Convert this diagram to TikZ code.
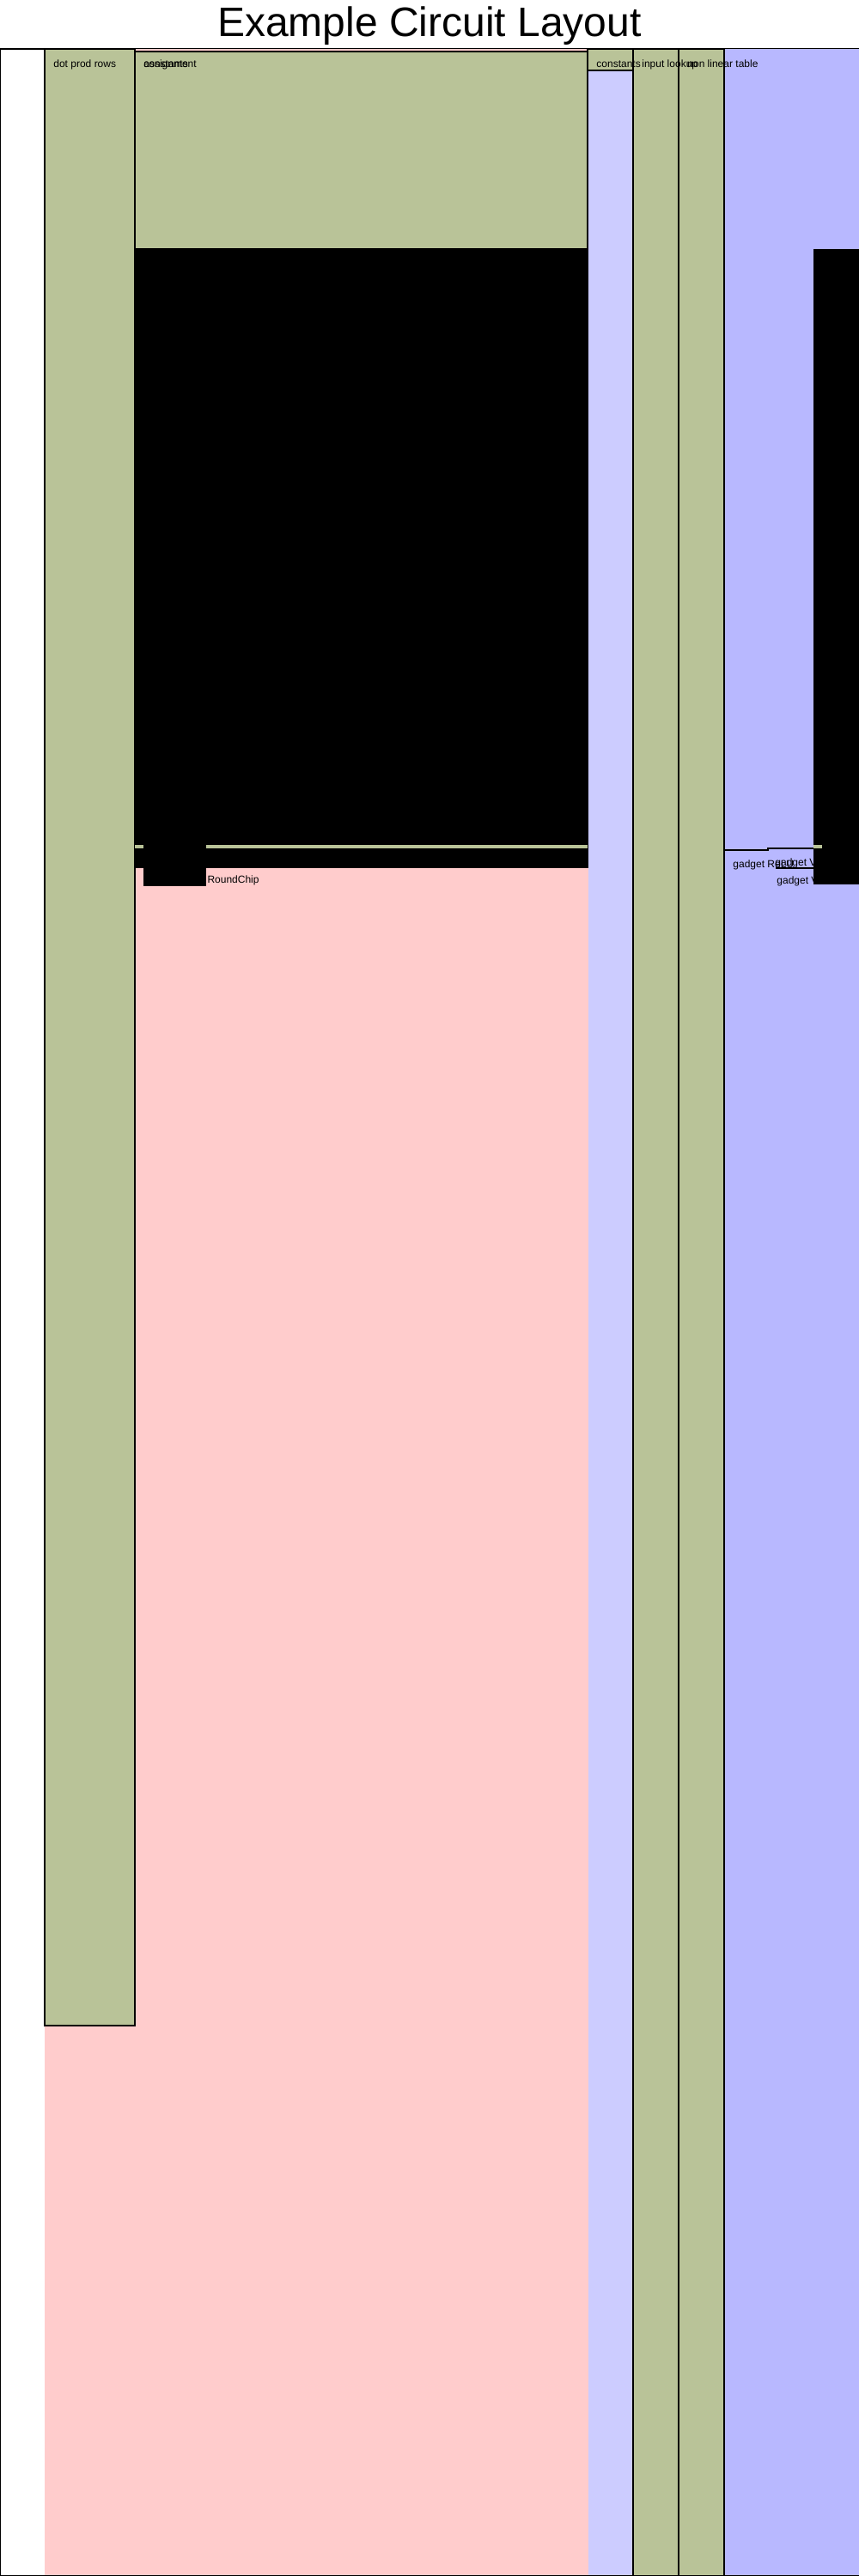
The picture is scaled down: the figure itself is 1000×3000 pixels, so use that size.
\documentclass[tikz,border=0pt]{standalone}
\usepackage{fontspec}
\setmainfont{Liberation Sans}
\definecolor{lgreen}{RGB}{185,195,152}
\definecolor{lpink}{RGB}{255,204,204}
\definecolor{lav}{RGB}{204,204,255}
\definecolor{lblue}{RGB}{184,184,255}
\begin{document}
\begin{tikzpicture}[x=0.5pt,y=-0.5pt,
  region/.style={draw=black,line width=0.7pt},
  lbl/.style={anchor=base west,inner sep=0pt,font=\fontsize{6pt}{7pt}\selectfont},
  titlestyle/.style={anchor=base,inner sep=0pt,font=\fontsize{24pt}{28pt}\selectfont}]
\useasboundingbox (0,0) rectangle (1000,3000);
\fill[white] (0,0) rectangle (1000,3000);
\node[titlestyle] (title) at (500,42) {Example Circuit Layout};
% outer frame
\draw[region,fill=white] (0.7,57) rectangle (1010,2999.3);
\fill[lpink] (52,57) rectangle (685,2999);
\fill[lblue] (843,57) rectangle (1000,2999);
% constants column
\fill[lav] (685,82) rectangle (737,2999);
\draw[region,fill=lgreen] (684,57) rectangle (737,82);
\draw[region,fill=lgreen] (737,57) rectangle (790,2999.3);
\draw[region,fill=lgreen] (790,57) rectangle (843,2999.3);
\draw[region] (0.7,2999.3) -- (1000,2999.3);
% dot prod rows
\draw[region,fill=lgreen] (52,57) rectangle (157,2359);
% assignment
\fill[black] (157,290) rectangle (685,1011);
\draw[region,fill=lgreen] (157,60) rectangle (684,290);
\fill[lgreen] (157.4,984) rectangle (684,988);
\node[lbl,anchor=base east] (roundchip) at (302,1028) {gadget RoundChip};
\fill[black] (167,975) rectangle (240,1032);
% right blue area
\fill[black] (947,290) rectangle (1000,1030);
\fill[lgreen] (947,984) rectangle (957,988);
\draw[line width=0.7pt] (843,990) -- (894,990) -- (894,988) -- (947,988);
\draw[line width=0.7pt] (903,1011) -- (947,1011);
\node[lbl] (grelu) at (853,1010) {gadget ReLU};
\node[lbl] (gvar) at (902,1008) {gadget Var};
\node[lbl] (gval) at (904,1029) {gadget Value};
% labels
\node[lbl] (ldot) at (62,78) {dot prod rows};
\node[lbl] (lconst1) at (167,78) {constants};
\node[lbl] (lassign) at (167,78) {assignment};
\node[lbl] (lconst2) at (694,78) {constants};
\node[lbl] (linput) at (747,78) {input lookup};
\node[lbl] (lnonlin) at (800,78) {non linear table};
\end{tikzpicture}
\end{document}
